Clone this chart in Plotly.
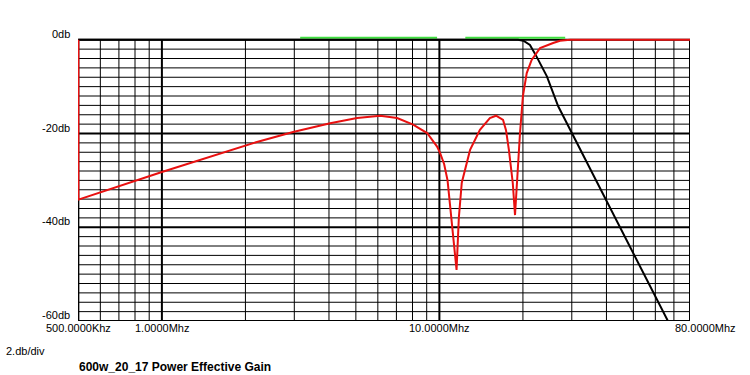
import plotly.graph_objects as go
import math

# ---- data (frequency in MHz, level in dB) ----
red_f = [0.5, 0.5, 1.0, 2.2, 2.97, 4.04, 5.05, 6.12, 7.04, 8.04, 9.03, 9.81, 10.06, 10.4, 10.7,
         11.08, 11.39, 11.53, 11.75, 12.04, 12.9, 14.0, 15.2, 16.0, 16.96, 17.38, 17.8, 18.38,
         18.73, 19.09, 19.52, 20.0, 20.64, 21.5, 23.05, 25.7, 27.2, 29.6, 80]
red_db = [0, -34.1, -28.2, -21.8, -19.7, -17.8, -16.7, -16.2, -16.7, -18.1, -19.9, -22.8,
          -24.2, -26.5, -30.0, -38.4, -44.8, -49.1, -38.0, -30.5, -23.5, -19.2, -16.7, -16.2,
          -17.1, -19.3, -23.5, -30.5, -37.4, -28.4, -19.9, -12.0, -7.1, -4.3, -1.8, -0.7,
          -0.2, 0, 0]

black_f = [0.5, 19.2, 20.07, 21.2, 22.4, 23.6, 24.4, 26.8, 30.05, 44.7, 66.6, 70]
black_db = [0, 0, -0.2, -1.1, -3.6, -6.0, -7.8, -14.2, -20, -40, -60, -62.5]

green_f = [3.15, 9.81, None, 12.4, 28.4]
green_db = [0.45, 0.45, None, 0.45, 0.45]

x_tick_vals = [0.5, 1, 10, 80]
x_tick_text = ["500.0000Khz", "1.0000Mhz", "10.0000Mhz", "80.0000Mhz"]
y_tick_vals = [0, -20, -40, -60]
y_tick_text = ["0db", "-20db", "-40db", "-60db"]
x_minor_grid = [0.6, 0.7, 0.8, 0.9, 2, 3, 4, 5, 6, 7, 8, 9, 20, 30, 40, 50, 60, 70]
x_major_grid = [1, 10]
y_minor_grid = [v for v in range(-58, 0, 2) if v not in (-20, -40)]
y_major_grid = [-20, -40]

title_text = "600w_20_17 Power Effective Gain"
scale_text = "2.db/div"

X0, X1 = 0.5, 80
Y0, Y1 = -60, 0
FONT = "Liberation Sans, Arial, sans-serif"

fig = go.Figure()
fig.add_trace(go.Scatter(x=green_f, y=green_db, mode="lines",
                         line=dict(color="#3fe03f", width=2), connectgaps=False))
fig.add_trace(go.Scatter(x=black_f, y=black_db, mode="lines",
                         line=dict(color="#000000", width=2)))
fig.add_trace(go.Scatter(x=red_f, y=red_db, mode="lines",
                         line=dict(color="#e81010", width=2)))

shapes = []
for v in x_minor_grid:
    shapes.append(dict(type="line", xref="x", yref="y", x0=v, x1=v,
                       y0=Y0, y1=Y1, line=dict(color="black", width=1), layer="below"))
for v in x_major_grid:
    shapes.append(dict(type="line", xref="x", yref="y", x0=v, x1=v,
                       y0=Y0, y1=Y1, line=dict(color="black", width=2), layer="below"))
for v in y_minor_grid:
    shapes.append(dict(type="line", xref="x", yref="y", x0=X0, x1=X1, y0=v, y1=v,
                       line=dict(color="black", width=1), layer="below"))
for v in y_major_grid:
    shapes.append(dict(type="line", xref="x", yref="y", x0=X0, x1=X1, y0=v, y1=v,
                       line=dict(color="black", width=2), layer="below"))
shapes.append(dict(type="rect", xref="x", yref="y", x0=X0, x1=X1, y0=Y0, y1=Y1,
                   line=dict(color="black", width=2), layer="below"))

ann = []
for v, t in zip(x_tick_vals, x_tick_text):
    shift = 15 if v == 80 else 0
    ann.append(dict(x=math.log10(v), y=Y0, xref="x", yref="y", text=t, showarrow=False,
                    xanchor="center", yanchor="top", xshift=shift, yshift=1,
                    font=dict(family=FONT, size=11, color="black")))
for v, t in zip(y_tick_vals, y_tick_text):
    ann.append(dict(x=0, y=v, xref="paper", yref="y", text=t, showarrow=False,
                    xanchor="right", yanchor="middle", xshift=-6, yshift=6,
                    font=dict(family=FONT, size=11, color="black")))
ann.append(dict(x=-74 / 612, y=-0.105, xref="paper", yref="paper", text=scale_text,
                showarrow=False, xanchor="left", yanchor="middle",
                font=dict(family=FONT, size=11, color="black")))
ann.append(dict(x=-1 / 612, y=-0.16, xref="paper", yref="paper", text="<b>" + title_text + "</b>",
                showarrow=False, xanchor="left", yanchor="middle",
                font=dict(family=FONT, size=12, color="black")))

fig.update_layout(
    width=750, height=375,
    margin=dict(l=78, r=60, t=36, b=54),
    paper_bgcolor="white", plot_bgcolor="white",
    showlegend=False,
    shapes=shapes, annotations=ann,
    xaxis=dict(type="log", range=[math.log10(0.4985), math.log10(X1)], showgrid=False,
               zeroline=False, showticklabels=False, showline=False, ticks=""),
    yaxis=dict(range=[Y0, 0.8], showgrid=False, zeroline=False,
               showticklabels=False, showline=False, ticks=""),
)

fig.write_html("out.html", config={"displayModeBar": False},
               post_script="document.body.style.margin='0';")
